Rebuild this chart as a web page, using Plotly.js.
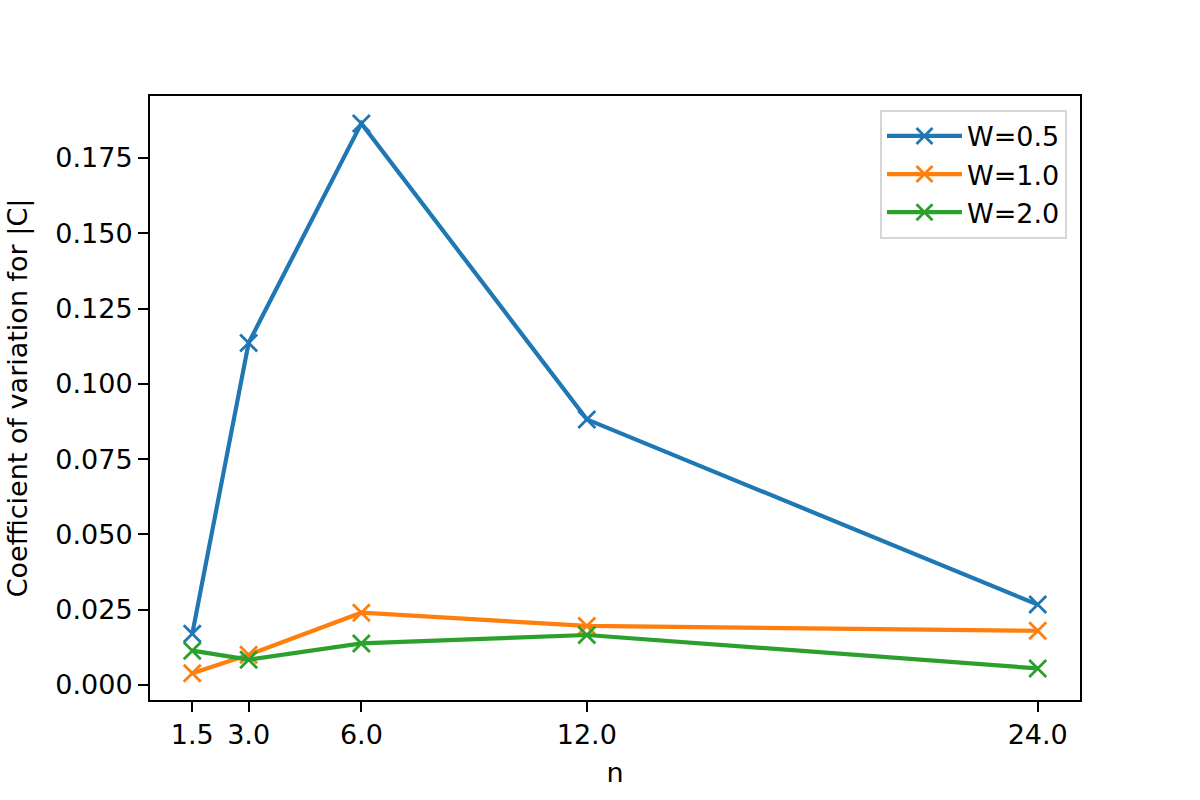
<!DOCTYPE html>
<html>
<head>
<meta charset="utf-8">
<script src="https://cdn.plot.ly/plotly-3.0.1.min.js"></script>
<style>html,body{margin:0;padding:0;background:#fff;}</style>
</head>
<body>
<div id="chart" style="width:1200px;height:800px;"></div>
<script>
const nValues = [1.5, 3.0, 6.0, 12.0, 24.0];
const nTickText = ['1.5', '3.0', '6.0', '12.0', '24.0'];
const seriesNames = ['W=0.5', 'W=1.0', 'W=2.0'];
const cvW05 = [0.0170, 0.1136, 0.1865, 0.0882, 0.0267];
const cvW10 = [0.0039, 0.0100, 0.0240, 0.0196, 0.0180];
const cvW20 = [0.0114, 0.0084, 0.0138, 0.0166, 0.0055];
const yTickVals = [0, 0.025, 0.05, 0.075, 0.1, 0.125, 0.15, 0.175];
const colors = ['#1f77b4', '#ff7f0e', '#2ca02c'];

const allSeries = [cvW05, cvW10, cvW20];
const traces = allSeries.map((ys, i) => ({
  x: nValues,
  y: ys,
  name: seriesNames[i],
  type: 'scatter',
  mode: 'lines+markers',
  line: {color: colors[i], width: 4.2},
  marker: {symbol: 'x-thin', size: 17, color: colors[i], line: {color: colors[i], width: 2.8}}
}));

const font = {family: 'DejaVu Sans, sans-serif', size: 27, color: '#000'};

const layout = {
  width: 1200,
  height: 800,
  paper_bgcolor: '#fff',
  plot_bgcolor: '#fff',
  font: font,
  margin: {l: 150, r: 120, t: 96, b: 100, pad: 0},
  showlegend: true,
  legend: {
    x: 0.986, y: 0.977, xanchor: 'right', yanchor: 'top',
    bgcolor: 'rgba(255,255,255,0.8)',
    bordercolor: '#d6d6d6', borderwidth: 2,
    itemwidth: 75,
    font: font
  },
  xaxis: {
    range: [0.375, 25.125],
    tickmode: 'array',
    tickvals: nValues,
    ticktext: nTickText,
    ticks: 'outside', ticklen: 10, tickwidth: 2, tickcolor: '#000',
    showline: true, linecolor: '#000', linewidth: 2, mirror: true,
    showgrid: false, zeroline: false,
    title: {text: 'n', font: font, standoff: 14}
  },
  yaxis: {
    range: [-0.00499, 0.1956],
    tickmode: 'array',
    tickvals: yTickVals,
    tickformat: '.3f',
    ticks: 'outside', ticklen: 10, tickwidth: 2, tickcolor: '#000',
    showline: true, linecolor: '#000', linewidth: 2, mirror: true,
    showgrid: false, zeroline: false,
    title: {text: 'Coefficient of variation for |C|', font: font, standoff: 20}
  }
};

Plotly.newPlot('chart', traces, layout, {displayModeBar: false, staticPlot: true});
</script>
</body>
</html>
